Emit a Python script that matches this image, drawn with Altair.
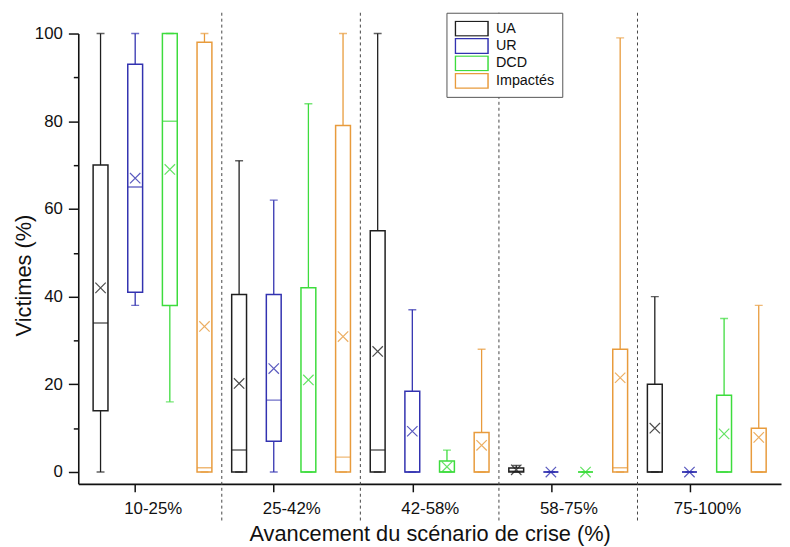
import json
import altair as alt
import pandas as pd

groups = ["10-25%", "25-42%", "42-58%", "58-75%", "75-100%"]
series = ["UA", "UR", "DCD", "Impactés"]
colors = ["#1f1f1f", "#3232b0", "#3ddc3d", "#e89b3c"]

# statistics per series, one value per group (in %)
ua_min = [0, 0, 0, 0, 0]
ua_q1 = [14, 0, 0, 0, 0]
ua_med = [34, 5, 5, 0.2, 0]
ua_q3 = [70, 40.5, 55, 0.9, 20]
ua_max = [100, 71, 100, 1.5, 40]
ua_mean = [42, 20.2, 27.5, 0.5, 10]

ur_min = [38, 0, 0, 0, 0]
ur_q1 = [41, 7, 0, 0, 0]
ur_med = [65, 16.4, 0, 0, 0]
ur_q3 = [93, 40.5, 18.4, 0, 0]
ur_max = [100, 62, 37, 0, 0]
ur_mean = [67, 23.6, 9.3, 0, 0]

dcd_min = [16, 0, 0, 0, 0]
dcd_q1 = [38, 0, 0, 0, 0]
dcd_med = [80, 0, 0, 0, 0]
dcd_q3 = [100, 42, 2.5, 0, 17.5]
dcd_max = [100, 84, 5, 0, 35]
dcd_mean = [69, 21, 1.2, 0, 8.7]

imp_min = [0, 0, 0, 0, 0]
imp_q1 = [0, 0, 0, 0, 0]
imp_med = [1, 3.4, 0, 1, 0]
imp_q3 = [98, 79, 9, 28, 10]
imp_max = [100, 100, 28, 99, 38]
imp_mean = [33.2, 30.9, 6.1, 21.5, 7.9]

table = {
    "UA": (ua_min, ua_q1, ua_med, ua_q3, ua_max, ua_mean),
    "UR": (ur_min, ur_q1, ur_med, ur_q3, ur_max, ur_mean),
    "DCD": (dcd_min, dcd_q1, dcd_med, dcd_q3, dcd_max, dcd_mean),
    "Impactés": (imp_min, imp_q1, imp_med, imp_q3, imp_max, imp_mean),
}

ns = len(series)
rows = []
for si, name in enumerate(series):
    mn, q1, md, q3, mx, mu = table[name]
    for gi, g in enumerate(groups):
        rows.append(dict(series=name, group=g, pos=gi * ns + si,
                         vmin=mn[gi], q1=q1[gi], med=md[gi], q3=q3[gi],
                         vmax=mx[gi], mean=mu[gi]))
df = pd.DataFrame(rows)

seps = pd.DataFrame({"pos": [gi * ns - 0.5 for gi in range(1, len(groups))]})
tick_vals = [gi * ns + 1 for gi in range(len(groups))]

FONT = "Liberation Sans"
W, H = 710, 455

xscale = alt.Scale(domain=[-0.5, len(groups) * ns - 0.5], nice=False, zero=False)
yscale = alt.Scale(domain=[-2.7, 100], nice=False, zero=False)
cscale = alt.Scale(domain=series, range=colors)

xaxis = alt.Axis(
    values=tick_vals,
    labelExpr=f"{json.dumps(groups)}[round((datum.value-1)/{ns})]",
    labelOffset=17.7, labelFlush=False, labelOverlap=False,
    tickSize=8, labelPadding=8.5, labelFontSize=17, labelFont=FONT,
    labelColor="#111", grid=False,
    title="Avancement du scénario de crise (%)", titleFont=FONT,
    titleFontSize=22, titleFontWeight="normal", titleColor="#111",
    titleY=40, titleBaseline="top",
)
yaxis = alt.Axis(
    values=list(range(0, 101, 10)),
    labelExpr="datum.value % 20 == 0 ? datum.label : ''",
    tickSize={"condition": {"test": "datum.value % 20 == 0", "value": 10}, "value": 5},
    labelFlush=False, labelOverlap=False, labelPadding=6,
    labelFontSize=17, labelFont=FONT, labelColor="#111", grid=False,
    title="Victimes (%)", titleFont=FONT, titleFontSize=22,
    titleFontWeight="normal", titleColor="#111",
    titleX=-55, titleY=244, titleBaseline="middle", titleAlign="center",
)

legend = alt.Legend(
    title=None, orient="none", legendX=372, legendY=-21,
    symbolType="M-1,-0.4545H1V0.4545H-1Z", symbolSize=1089,
    symbolStrokeWidth=1.5, symbolFillColor="white", clipHeight=16,
    rowPadding=1.6, labelFontSize=14.5, labelFont=FONT, labelColor="#111",
    labelOffset=7, padding=8, strokeColor="#555", fillColor="white",
)

X = alt.X("pos:Q", scale=xscale, axis=xaxis)
color = alt.Color("series:N", scale=cscale, legend=legend)

base = alt.Chart(df)

sep_layer = alt.Chart(seps).mark_rule(
    color="#444", strokeWidth=1, strokeDash=[3, 3]
).encode(
    x=alt.X("pos:Q", scale=xscale, axis=xaxis),
    y=alt.value(-21), y2=alt.value(H + 39),
)

box = base.mark_bar(filled=False, strokeWidth=1.5, size=15).encode(
    x=X, y=alt.Y("q1:Q", scale=yscale, axis=yaxis), y2="q3:Q", color=color
)
wlow = base.mark_rule(strokeWidth=1.3).encode(
    x=X, y=alt.Y("vmin:Q", scale=yscale, axis=yaxis), y2="q1:Q", color=color
)
whigh = base.mark_rule(strokeWidth=1.3).encode(
    x=X, y=alt.Y("q3:Q", scale=yscale, axis=yaxis), y2="vmax:Q", color=color
)
cap_hi = base.mark_tick(orient="horizontal", size=8, thickness=0,
                        filled=False, strokeWidth=1.4).encode(
    x=X, y=alt.Y("vmax:Q", scale=yscale, axis=yaxis), color=color
)
cap_lo = base.mark_tick(orient="horizontal", size=8, thickness=0,
                        filled=False, strokeWidth=1.4).encode(
    x=X, y=alt.Y("vmin:Q", scale=yscale, axis=yaxis), color=color
)
median = base.mark_tick(orient="horizontal", size=15, thickness=0,
                        filled=False, strokeWidth=1.5).encode(
    x=X, y=alt.Y("med:Q", scale=yscale, axis=yaxis), color=color
)
mean = base.mark_point(
    shape="M-1,-1L1,1M1,-1L-1,1", size=110, filled=False,
    strokeWidth=1.2, opacity=0.8
).encode(
    x=X, y=alt.Y("mean:Q", scale=yscale, axis=yaxis), color=color
)

chart = alt.layer(
    sep_layer, box, wlow, whigh, cap_hi, cap_lo, median, mean
).properties(
    width=W, height=H,
    autosize=alt.AutoSizeParams(type="none"),
    padding={"left": 71, "top": 23, "right": 1, "bottom": 62},
).configure_view(stroke=None).configure_axis(
    domainColor="#111", domainWidth=1.6, tickColor="#111", tickWidth=1.5,
)

chart.save("out.html", embed_options={"renderer": "svg", "actions": False})
